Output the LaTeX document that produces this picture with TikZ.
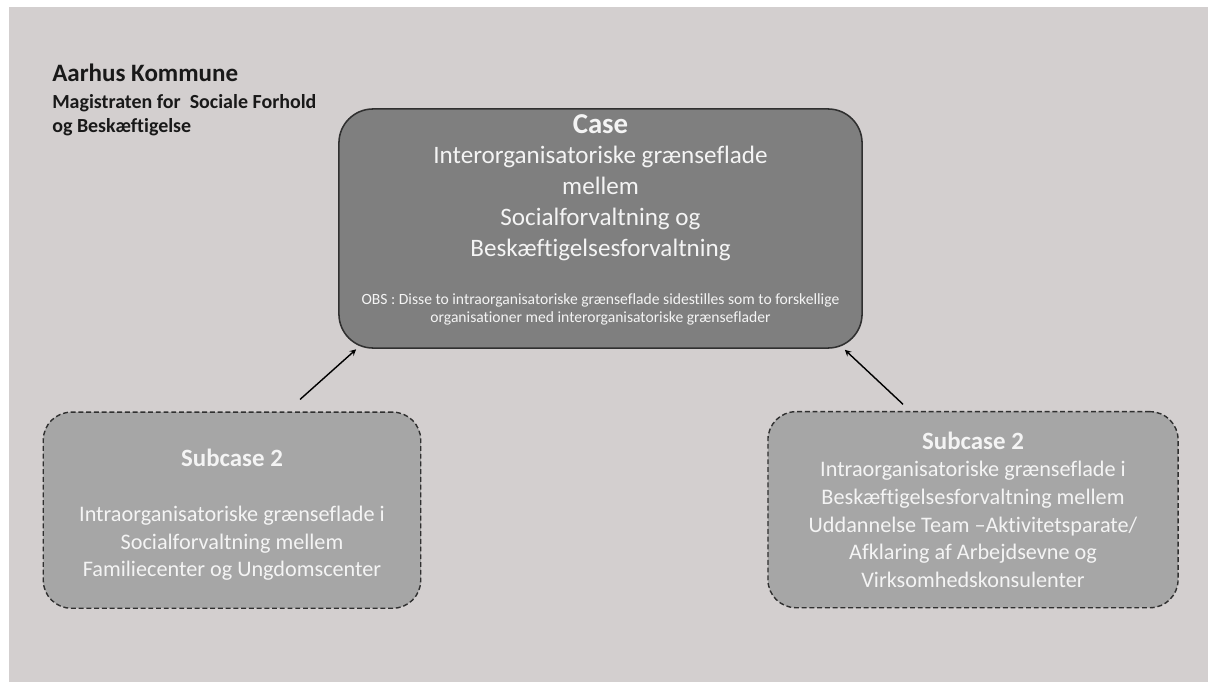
\documentclass[tikz,border=0pt]{standalone}
\usepackage{fontspec}
\setmainfont{Carlito}[Ligatures=NoCommon]
\usetikzlibrary{arrows}
\definecolor{bggrey}{RGB}{211,207,207}
\definecolor{casegrey}{RGB}{127,127,127}
\definecolor{subgrey}{RGB}{166,166,166}
\definecolor{edgegrey}{RGB}{48,48,48}
\definecolor{txtwhite}{RGB}{244,244,244}

\begin{document}
\begin{tikzpicture}[x=0.025cm,y=-0.025cm,
  casebox/.style={draw=edgegrey,line width=1.1pt,fill=casegrey,rounded corners=0.85cm,
    text=txtwhite,align=center,inner sep=0pt},
  subbox/.style={draw=edgegrey,line width=1pt,dash pattern=on 3.5pt off 2pt,fill=subgrey,
    rounded corners=0.7cm,text=txtwhite,align=center,inner sep=0pt,
    minimum height=4.9cm,font={\fontsize{15.8}{19.7}\selectfont}},
  arr/.style={-stealth,line width=1pt,black}]
\useasboundingbox (0,0) rectangle (1208,682);
\fill[white] (0,0) rectangle (1208,682);
\fill[bggrey] (9,7) rectangle (1208,682);

\node[anchor=north west,align=left,inner sep=0pt,text=black!90,
  font={\fontsize{14.2}{17.5}\selectfont\bfseries}] (title) at (52,63.5)
  {{\fontsize{17.8}{20}\selectfont Aarhus Kommune}\\[1.5pt]
   Magistraten for\ \ Sociale Forhold\\
   og Beskæftigelse};

\node[casebox,minimum width=13.075cm,minimum height=5.975cm,
  font={\fontsize{17.85}{21.9}\selectfont}] (case) at (600.5,228.5)
  {{\fontsize{20.5}{24}\selectfont\bfseries Case}\\
   Interorganisatoriske grænseflade\\
   mellem\\
   Socialforvaltning og\\
   Beskæftigelsesforvaltning\\[12.2pt]
   {\fontsize{11.1}{13}\selectfont OBS : Disse to intraorganisatoriske grænseflade sidestilles som to forskellige}\\[-9.1pt]
   {\fontsize{11.1}{13}\selectfont organisationer med interorganisatoriske grænseflader\rule[-14.5pt]{0pt}{1pt}}};

\node[subbox,minimum width=9.435cm] (subL) at (232,510.2)
  {{\fontsize{17.7}{21}\selectfont\bfseries Subcase 2\rule{0pt}{19pt}}\\[19.2pt]
   Intraorganisatoriske grænseflade i\\
   Socialforvaltning mellem\\
   Familiecenter og Ungdomscenter};

\node[subbox,minimum width=10.25cm] (subR) at (973,509.7)
  {{\fontsize{17.7}{21}\selectfont\bfseries Subcase 2}\\
   Intraorganisatoriske grænseflade i\\
   Beskæftigelsesforvaltning mellem\\
   Uddannelse Team –Aktivitetsparate/\\
   Afklaring af Arbejdsevne og\\
   Virksomhedskonsulenter};

\coordinate (l0) at ([shift={(68,-12)}]subL.north);
\coordinate (l1) at ([shift={(18,0.5)}]case.south west);
\coordinate (r0) at ([shift={(-70,-6.7)}]subR.north);
\coordinate (r1) at ([shift={(-18,1)}]case.south east);
\draw[arr] (l0) -- (l1);
\draw[arr] (r0) -- (r1);
\end{tikzpicture}
\end{document}
